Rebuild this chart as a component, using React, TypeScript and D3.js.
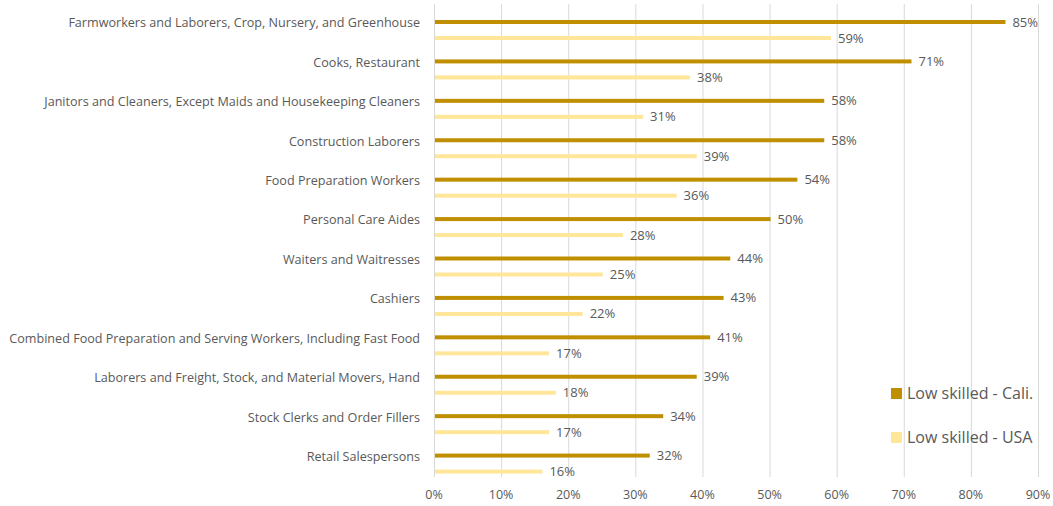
import * as d3 from "d3";
import { useRef, useEffect } from "react";

const categories = [
  "Farmworkers and Laborers, Crop, Nursery, and Greenhouse",
  "Cooks, Restaurant",
  "Janitors and Cleaners, Except Maids and Housekeeping Cleaners",
  "Construction Laborers",
  "Food Preparation Workers",
  "Personal Care Aides",
  "Waiters and Waitresses",
  "Cashiers",
  "Combined Food Preparation and Serving Workers, Including Fast Food",
  "Laborers and Freight, Stock, and Material Movers, Hand",
  "Stock Clerks and Order Fillers",
  "Retail Salespersons",
];

const caliValues = [85, 71, 58, 58, 54, 50, 44, 43, 41, 39, 34, 32];
const usaValues = [59, 38, 31, 39, 36, 28, 25, 22, 17, 18, 17, 16];

const seriesNames = ["Low skilled - Cali.", "Low skilled - USA"];
const seriesColors = ["#BF8F00", "#FFE699"];
const xTicks = [0, 10, 20, 30, 40, 50, 60, 70, 80, 90];

const width = 1053;
const height = 506;
const font = "'Open Sans', sans-serif";

export default function App() {
  const ref = useRef<SVGSVGElement | null>(null);

  useEffect(() => {
    const svg = d3.select(ref.current);
    svg.selectAll("*").remove();

    const x = d3.scaleLinear().domain([0, 90]).range([434, 1038]);
    const y = d3.scaleBand<string>().domain(categories).range([4, 477]);
    const sub = d3.scaleBand<string>().domain(["cali", "usa"]).range([10, 42]);
    const barH = 4;

    // gridlines
    svg.append("g")
      .selectAll("line")
      .data(xTicks)
      .join("line")
      .attr("x1", d => x(d) + 0.5)
      .attr("x2", d => x(d) + 0.5)
      .attr("y1", 4)
      .attr("y2", 477)
      .attr("stroke", "#D9D9D9")
      .attr("stroke-width", 1);

    // x tick labels
    svg.append("g")
      .selectAll("text")
      .data(xTicks)
      .join("text")
      .attr("x", d => x(d))
      .attr("y", 499)
      .attr("text-anchor", "middle")
      .attr("fill", "#595959")
      .style("font", `12.5px ${font}`)
      .text(d => `${d}%`);

    // category labels
    svg.append("g")
      .selectAll("text")
      .data(categories)
      .join("text")
      .attr("x", 420)
      .attr("y", d => (y(d) ?? 0) + 19)
      .attr("dy", "0.35em")
      .attr("text-anchor", "end")
      .attr("fill", "#595959")
      .style("font", `12.6px ${font}`)
      .text(d => d);

    const series = [
      { key: "cali", values: caliValues, color: seriesColors[0] },
      { key: "usa", values: usaValues, color: seriesColors[1] },
    ];

    series.forEach(s => {
      const g = svg.append("g");
      g.selectAll("rect")
        .data(categories)
        .join("rect")
        .attr("x", x(0) + 1)
        .attr("y", d => (y(d) ?? 0) + (sub(s.key) ?? 0) + sub.bandwidth() / 2 - barH / 2)
        .attr("width", (d, i) => x(s.values[i]) - x(0))
        .attr("height", barH)
        .attr("fill", s.color);
      g.selectAll("text")
        .data(categories)
        .join("text")
        .attr("x", (d, i) => x(s.values[i]) + 8)
        .attr("y", d => (y(d) ?? 0) + (sub(s.key) ?? 0) + sub.bandwidth() / 2)
        .attr("dy", "0.35em")
        .attr("fill", "#595959")
        .style("font", `13px ${font}`)
        .text((d, i) => `${s.values[i]}%`);
    });

    // legend
    const legend = svg.append("g").attr("transform", "translate(891,388)");
    seriesNames.forEach((name, i) => {
      const item = legend.append("g").attr("transform", `translate(0,${i * 44})`);
      item.append("rect")
        .attr("width", 11)
        .attr("height", 11)
        .attr("fill", seriesColors[i]);
      item.append("text")
        .attr("x", 16)
        .attr("y", 5.5)
        .attr("dy", "0.35em")
        .attr("fill", "#595959")
        .style("font", `16px ${font}`)
        .text(name);
    });
  }, []);

  return (
    <svg
      ref={ref}
      width={width}
      height={height}
      style={{ position: "absolute", left: 0, top: 0, background: "#fff" }}
    />
  );
}
